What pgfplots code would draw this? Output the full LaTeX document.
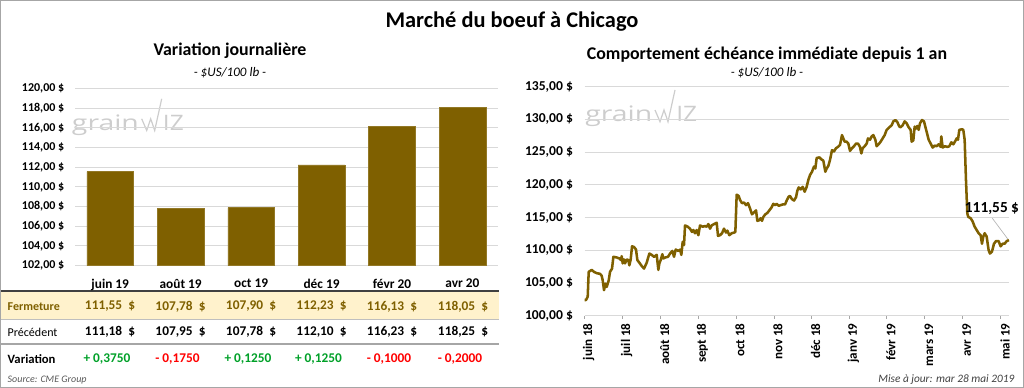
\documentclass[border=0pt]{standalone}
\usepackage{pgfplots}
\pgfplotsset{compat=1.18}
\usepackage{fontspec}
\setmainfont{Carlito}
\newfontfamily\wmfont{Open Sans}
\definecolor{gold}{RGB}{127,96,0}
\definecolor{band}{RGB}{255,242,204}
\definecolor{grn}{RGB}{0,160,40}
\definecolor{gridc}{RGB}{217,217,217}
\definecolor{wm}{RGB}{205,205,205}
\newcommand\wmark[2]{%
  \node[anchor=base west, inner sep=0, text=wm] at (#1,#2) {\scalebox{1.33}[1]{\wmfont\fontsize{16}{16}\selectfont grain}};
  \draw[wm, line width=0.9pt, line join=miter] (#1+70,#2-11.7) -- (#1+75,#2) -- (#1+79,#2-11.7) -- (#1+83,#2) -- (#1+90,#2-31.7);
  \node[anchor=base west, inner sep=0, text=wm] at (#1+91,#2) {\scalebox{1.15}[1]{\wmfont\fontsize{16}{16}\selectfont IZ}};
}
\begin{document}
\begin{tikzpicture}[x=0.75pt,y=-0.75pt]
\useasboundingbox (0,0) rectangle (1024,388);
\draw[gray!70, line width=0.75pt] (0.5,0.5) rectangle (1023.5,387.5);
% titles
\node[font=\bfseries\fontsize{16.8}{19}\selectfont] at (512,22) {Marché du boeuf à Chicago};
\node[font=\bfseries\fontsize{13.4}{15}\selectfont] at (230,51) {Variation journalière};
\node[font=\itshape\fontsize{9.8}{11}\selectfont] at (230,73) {- \$US/100 lb -};
\node[font=\bfseries\fontsize{13.4}{15}\selectfont] at (767,55) {Comportement échéance immédiate depuis 1 an};
\node[font=\itshape\fontsize{9.8}{11}\selectfont] at (767,73) {- \$US/100 lb -};
% watermarks
\wmark{71.7}{130.5}
\wmark{585}{121.7}
% table
\fill[band] (1,292) rectangle (499,318.5);
\draw[black!75, line width=1.5pt] (1,291) -- (499,291);
\draw[gray!50, line width=0.75pt] (1,319) -- (499,319);
\draw[gray!70, line width=1.5pt] (1,343.5) -- (499,343.5);
\node[anchor=west, text=gold, font=\bfseries\fontsize{9}{11}\selectfont] at (3,306.5) {Fermeture};
\node[anchor=west, font=\fontsize{9}{11}\selectfont] at (3,332) {Précédent};
\node[anchor=west, font=\bfseries\fontsize{9.5}{11}\selectfont] at (3,359) {Variation};
\foreach \c/\f/\p in {110/{111,55}/{111,18}, 180.5/{107,78}/{107,95}, 251/{107,90}/{107,78}, 321.5/{112,23}/{112,10}, 392/{116,13}/{116,23}, 463/{118,05}/{118,25}}{
  \node[text=gold, font=\bfseries\fontsize{10}{12}\selectfont] at (\c,306.5) {\f\ \ \$};
  \node[font=\bfseries\fontsize{10}{12}\selectfont] at (\c,332) {\p\ \ \$};
}
\foreach \c/\v/\col in {107/{+ 0,3750}/grn, 177.5/{- 0,1750}/red, 248/{+ 0,1250}/grn, 318.5/{+ 0,1250}/grn, 389/{- 0,1000}/red, 460/{- 0,2000}/red}{
  \node[text=\col, font=\bfseries\fontsize{10}{12}\selectfont] at (\c,359) {\v};
}
\node[anchor=west, text=black!65, font=\itshape\fontsize{7.5}{9}\selectfont] at (3,380) {Source: CME Group};
\node[anchor=east, text=black!75, font=\itshape\fontsize{8.5}{10}\selectfont] at (1019,380) {Mise à jour: mar 28 mai 2019};

% left bar chart
\begin{axis}[at={(56.25pt,-199.275pt)}, anchor=south west, scale only axis,
  width=317pt, height=133pt,
  xmin=-0.5, xmax=5.5, ymin=102, ymax=120,
  axis line style={draw=none}, major tick length=0pt,
  ymajorgrids, grid style={gridc, line width=0.75pt},
  xtick={0,...,5},
  xticklabels={juin 19,août 19,oct 19,déc 19,févr 20,avr 20},
  ytick={102,104,...,120},
  yticklabels={{102,00 \$},{104,00 \$},{106,00 \$},{108,00 \$},{110,00 \$},{112,00 \$},{114,00 \$},{116,00 \$},{118,00 \$},{120,00 \$}},
  x tick label style={font=\bfseries\fontsize{10}{12}\selectfont, yshift=-6.5pt},
  y tick label style={font=\bfseries\fontsize{9}{10}\selectfont, xshift=-4.5pt},
  ybar, bar width=35pt]
\addplot[fill=gold, draw=gold!85!white] coordinates {(0,111.55) (1,107.78) (2,107.90) (3,112.23) (4,116.13) (5,118.05)};
\end{axis}

% right line chart
\begin{axis}[at={(438.525pt,-236.775pt)}, anchor=south west, scale only axis,
  width=318.2pt, height=171.75pt, clip=false,
  xmin=224, xmax=1497, ymin=100, ymax=135,
  axis line style={draw=none},
  ymajorgrids, grid style={gridc, line width=0.75pt},
  ytick={100,105,...,135},
  yticklabels={{100,00 \$},{105,00 \$},{110,00 \$},{115,00 \$},{120,00 \$},{125,00 \$},{130,00 \$},{135,00 \$}},
  ytick style={draw=none},
  xtick={224,338,452,565,678,792,905,1018,1131,1245,1358,1473},
  xticklabels={juin 18,juil 18,août 18,sept 18,oct 18,nov 18,déc 18,janv 19,févr 19,mars 19,avr 19,mai 19},
  xtick pos=left, tick align=outside, major tick length=2.25pt,
  xtick style={black!35, line width=0.75pt},
  x tick label style={font=\bfseries\fontsize{9.8}{11}\selectfont, rotate=90, anchor=east, yshift=-3pt},
  y tick label style={font=\bfseries\fontsize{10.2}{11}\selectfont, xshift=-3pt}]
\draw[gridc, line width=0.75pt] (axis cs:224,100) -- (axis cs:1497,100);
\addplot[gold, line width=1.9pt, line join=round, mark=none] coordinates {
(224,102.4) (228,102.4) (233,102.9) (236,106.7) (245,107.0) (252,106.7) (260,106.5) (270,106.4) (275,106.1) (278,105.4)
(282,103.9) (286,104.9) (290,104.4) (296,105.4) (300,106.7) (306,107.2) (310,109.0) (320,108.9) (328,108.75) (333,108.5)
(335,109.1) (338,108.0) (342,108.6) (345,108.0) (350,108.6) (355,108.5) (358,107.7) (362,108.6) (366,110.6) (372,110.5)
(378,110.1) (382,108.5) (388,108.1) (395,107.6) (402,107.2) (410,108.1) (418,109.5) (425,109.3) (432,109.0) (440,109.3)
(445,107.0) (448,108.0) (452,108.5) (457,109.4) (460,108.75) (466,108.9) (474,109.0) (480,109.5) (487,109.9) (492,109.0)
(497,110.1) (505,109.9) (510,110.1) (514,109.3) (518,111.3) (522,110.8) (525,113.8) (533,113.6) (540,113.3) (546,112.8)
(550,113.1) (555,112.6) (560,113.1) (565,112.3) (570,113.8) (578,113.6) (585,113.7) (590,113.6) (595,114.0) (600,113.3)
(605,113.8) (612,114.0) (620,114.2) (624,112.2) (630,112.3) (636,112.6) (642,113.3) (648,112.7) (652,113.0) (658,112.3)
(665,112.6) (672,112.7) (676,112.8) (680,118.5) (686,118.3) (690,117.7) (696,117.2) (702,117.3) (708,116.9) (714,117.2)
(720,116.4) (726,115.5) (734,115.9) (738,116.1) (742,114.5) (748,114.6) (752,114.9) (756,114.5) (760,115.1) (766,115.5)
(772,115.7) (778,116.1) (784,116.5) (790,117.1) (795,116.9) (800,117.1) (806,116.8) (812,116.9) (818,117.0) (825,117.0)
(830,117.6) (836,118.2) (840,118.3) (846,117.8) (852,117.6) (858,118.1) (862,119.1) (866,119.6) (872,119.3) (878,119.7)
(884,118.95) (890,119.7) (895,120.75) (900,121.5) (906,122.0) (912,122.8) (916,122.5) (920,124.1) (928,124.2) (934,123.9)
(940,123.7) (946,122.0) (950,122.5) (955,122.9) (960,123.8) (966,125.3) (972,125.1) (978,125.6) (984,125.8) (990,126.1)
(996,127.6) (1000,127.1) (1004,126.6) (1010,126.6) (1015,126.3) (1020,125.2) (1026,125.6) (1032,125.9) (1038,126.3) (1044,126.3)
(1050,125.8) (1054,124.8) (1058,125.6) (1064,125.9) (1070,126.3) (1074,127.1) (1080,126.9) (1085,127.4) (1090,127.6) (1096,126.9)
(1100,125.9) (1106,126.2) (1112,126.6) (1118,127.1) (1124,127.6) (1130,128.4) (1138,128.8) (1145,129.1) (1150,129.7) (1156,129.9)
(1162,129.6) (1168,128.9) (1172,128.8) (1178,129.1) (1184,129.7) (1190,129.4) (1196,128.8) (1202,128.4) (1205,126.6) (1210,126.8)
(1214,128.9) (1218,128.6) (1222,129.0) (1226,128.4) (1230,129.4) (1236,129.9) (1242,129.7) (1246,128.9) (1250,128.1) (1256,126.9)
(1262,126.3) (1268,125.7) (1274,126.0) (1280,125.9) (1286,126.2) (1292,125.8) (1294,127.4) (1298,125.7) (1305,125.9) (1312,125.8)
(1318,125.9) (1324,126.5) (1330,126.2) (1336,126.7) (1340,127.1) (1344,126.9) (1348,128.4) (1356,128.5) (1360,128.4) (1364,126.9)
(1368,120.75) (1372,115.6) (1375,115.1) (1382,114.9) (1388,114.4) (1394,113.6) (1400,113.1) (1406,112.6) (1412,112.3) (1416,111.0)
(1420,112.1) (1424,112.6) (1430,112.1) (1436,110.0) (1440,109.5) (1446,109.8) (1452,111.0) (1458,111.4) (1466,111.4) (1472,110.6)
(1478,111.0) (1484,111.0) (1490,111.4) (1497,111.55)};
\draw[black!30, line width=0.5pt] (axis cs:1447,114.9) -- (axis cs:1493,111.75);
\node[font=\bfseries\fontsize{11.5}{13}\selectfont] at (axis cs:1446,116.4) {111,55 \$};
\end{axis}
\end{tikzpicture}
\end{document}
